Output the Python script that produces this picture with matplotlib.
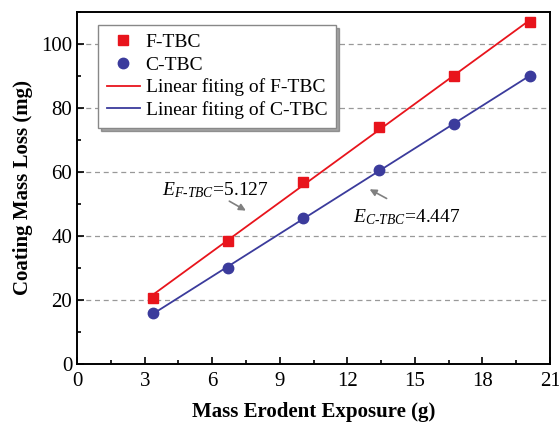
import numpy as np
import matplotlib
matplotlib.use('Agg')
import matplotlib.pyplot as plt
from matplotlib.ticker import MultipleLocator

plt.rcParams['font.family'] = 'Liberation Serif'
plt.rcParams['mathtext.fontset'] = 'custom'
plt.rcParams['mathtext.rm'] = 'Liberation Serif'
plt.rcParams['mathtext.it'] = 'Liberation Serif:italic'

# erodent mass (g) and measured coating loss (mg)
exposure = [3.35, 6.7, 10.05, 13.4, 16.75, 20.1]
loss_f = [20.5, 38.5, 57.0, 74.0, 90.0, 107.0]
loss_c = [16.0, 30.0, 45.5, 60.5, 75.0, 90.0]

# erosion rates from the linear fits
slope_f = 5.127
slope_c = 4.447

x = np.array(exposure)
yf = np.array(loss_f)
yc = np.array(loss_c)
icpt_f = yf.mean() - slope_f * x.mean()
icpt_c = yc.mean() - slope_c * x.mean()

red = '#e8141c'
blue = '#3b3b9c'

fig = plt.figure(figsize=(5.59, 4.25), dpi=100)
ax = fig.add_axes([0.138, 0.1435, 0.846, 0.8285])

ax.plot(x, yf, 's', color=red, markersize=7, label='F-TBC', zorder=3)
ax.plot(x, yc, 'o', color=blue, markersize=7.5, label='C-TBC', zorder=3)
ax.plot(x, slope_f * x + icpt_f, '-', color=red, lw=1.3, label='Linear fiting of F-TBC')
ax.plot(x, slope_c * x + icpt_c, '-', color=blue, lw=1.3, label='Linear fiting of C-TBC')

ax.set_xlim(0, 21)
ax.set_ylim(0, 110)
ax.xaxis.set_major_locator(MultipleLocator(3))
ax.xaxis.set_minor_locator(MultipleLocator(1.5))
ax.yaxis.set_major_locator(MultipleLocator(20))
ax.yaxis.set_minor_locator(MultipleLocator(10))
ax.tick_params(which='both', direction='in', labelsize=15, width=1.2)
ax.tick_params(which='major', length=5)
ax.tick_params(which='minor', length=3)
ax.tick_params(axis='x', pad=6)
for s in ax.spines.values():
    s.set_linewidth(1.4)

ax.yaxis.grid(True, which='major', linestyle=(0, (4, 3)), color='#999999', lw=0.9)

ax.set_xlabel('Mass Erodent Exposure (g)', fontsize=15, fontweight='bold', labelpad=8)
ax.set_ylabel('Coating Mass Loss (mg)', fontsize=15, fontweight='bold', labelpad=6)

leg = ax.legend(loc='upper left', bbox_to_anchor=(0.044, 0.963), fontsize=14,
                frameon=True, fancybox=False, shadow=True, handlelength=1.7,
                handletextpad=0.3, borderpad=0.45, labelspacing=0.25, borderaxespad=0)
leg.get_frame().set_edgecolor('#888888')
leg.get_frame().set_linewidth(1.0)

ax.annotate('', xy=(7.6, 47.5), xytext=(6.65, 51.3),
            arrowprops=dict(arrowstyle='-|>', color='#808080', lw=1.2, mutation_scale=10))
ax.text(3.77, 52.8, r'$E_{F\text{-}TBC}$=5.127', fontsize=14, va='baseline')
ax.annotate('', xy=(12.88, 55.0), xytext=(13.85, 51.3),
            arrowprops=dict(arrowstyle='-|>', color='#808080', lw=1.2, mutation_scale=10))
ax.text(12.26, 44.4, r'$E_{C\text{-}TBC}$=4.447', fontsize=14, va='baseline')

fig.savefig('out.png', dpi=100)
